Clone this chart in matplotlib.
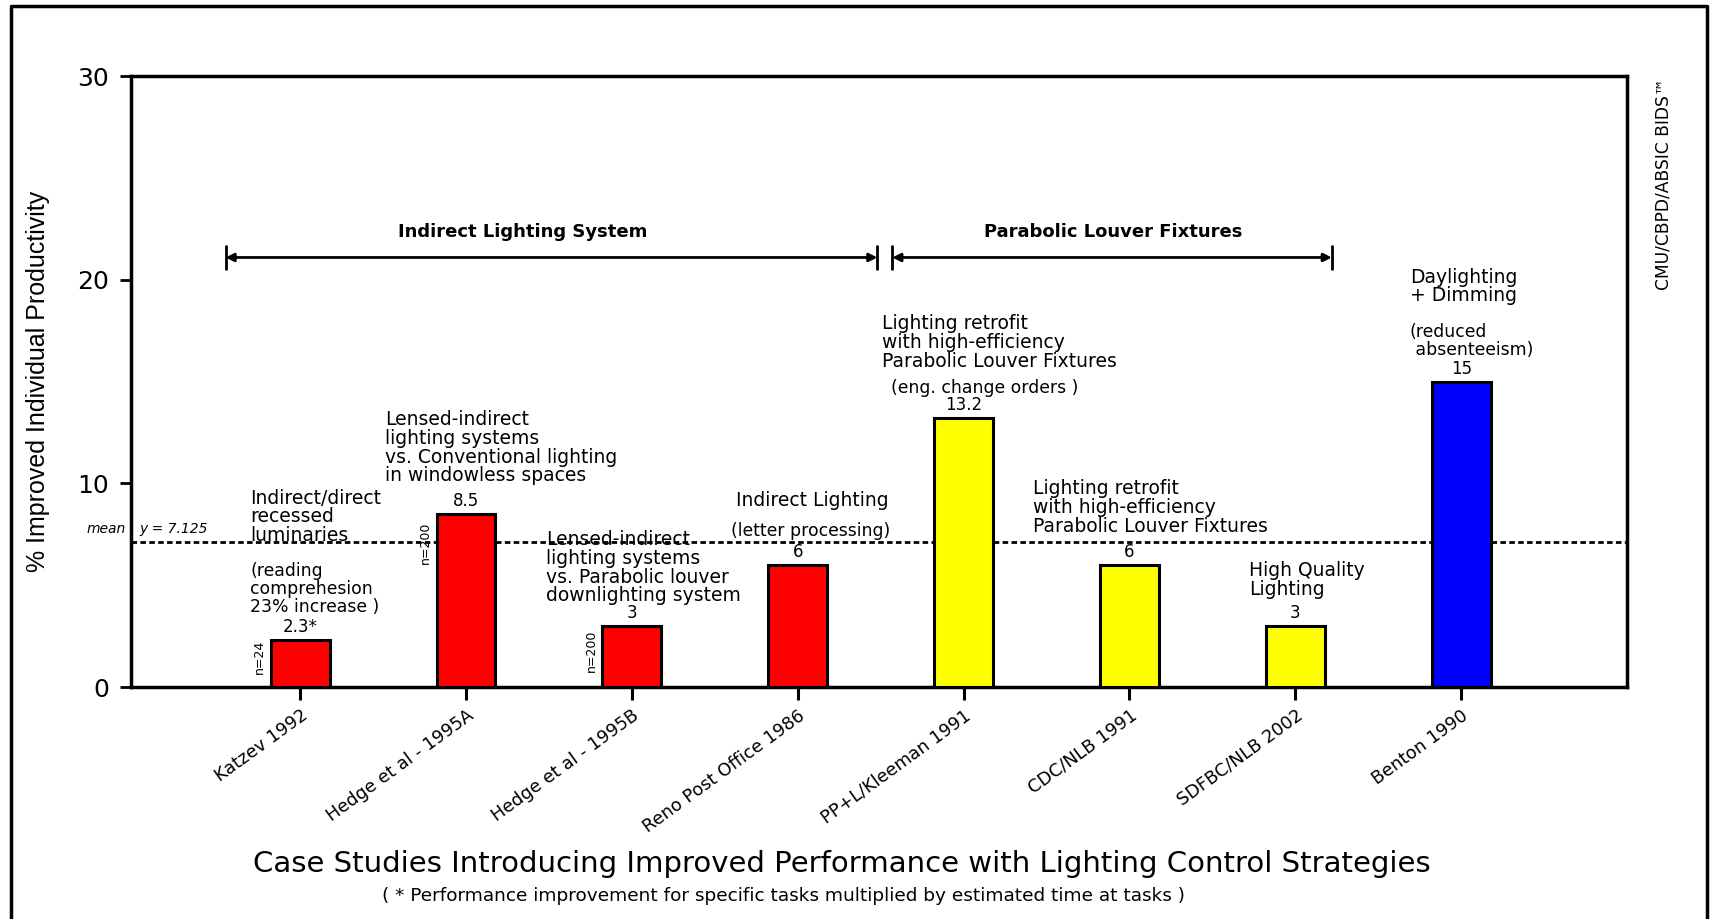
import matplotlib
matplotlib.use('Agg')
import matplotlib.pyplot as plt
from matplotlib.lines import Line2D

plt.rcParams['font.family'] = ['DejaVu Sans']

# data
studies = ['Katzev 1992', 'Hedge et al - 1995A', 'Hedge et al - 1995B', 'Reno Post Office 1986',
           'PP+L/Kleeman 1991', 'CDC/NLB 1991', 'SDFBC/NLB 2002', 'Benton 1990']
improvement = [2.3, 8.5, 3, 6, 13.2, 6, 3, 15]
value_labels = ['2.3*', '8.5', '3', '6', '13.2', '6', '3', '15']
bar_colors = ['red', 'red', 'red', 'red', 'yellow', 'yellow', 'yellow', 'blue']
mean_value = 7.125

# study descriptions: (x, y, text)
notes = [
    (-0.30, 9.75, 'Indirect/direct\nrecessed\nluminaries'),
    (0.51, 13.6, 'Lensed-indirect\nlighting systems\nvs. Conventional lighting\nin windowless spaces'),
    (1.48, 7.7, 'Lensed-indirect\nlighting systems\nvs. Parabolic louver\ndownlighting system'),
    (2.63, 9.65, 'Indirect Lighting'),
    (3.51, 18.3, 'Lighting retrofit\nwith high-efficiency\nParabolic Louver Fixtures'),
    (4.42, 10.2, 'Lighting retrofit\nwith high-efficiency\nParabolic Louver Fixtures'),
    (5.72, 6.2, 'High Quality\nLighting'),
    (6.69, 20.6, 'Daylighting\n+ Dimming'),
]
# what was measured, in brackets
measures = [
    (-0.30, 6.15, '(reading\ncomprehesion\n23% increase )'),
    (2.60, 8.1, '(letter processing)'),
    (3.56, 15.15, '(eng. change orders )'),
    (6.69, 17.9, '(reduced\n absenteeism)'),
]
# (bar index, y centre, text)
sample_sizes = [(0, 1.5, 'n=24'), (1, 7.1, 'n=200'), (2, 1.8, 'n=200')]

# (start, end, label x, label)
groups = [(-0.45, 3.48, 1.34, 'Indirect Lighting System'),
          (3.57, 6.22, 4.9, 'Parabolic Louver Fixtures')]
group_y = 21.1

fig = plt.figure(figsize=(17.1, 9.19), dpi=100)
ax = fig.add_axes([0.0766, 0.2524, 0.8749, 0.6646])

x = list(range(len(studies)))
ax.bar(x, improvement, width=0.355, color=bar_colors, edgecolor='black', linewidth=2.2, zorder=3)

for i, v in enumerate(improvement):
    ax.text(i, v + 0.2, value_labels[i], ha='center', va='bottom', fontsize=12)

for i, ny, n in sample_sizes:
    ax.text(i - 0.245, ny, n, rotation=90, ha='center', va='center', fontsize=9)

for nx, ny, txt in notes:
    ax.text(nx, ny, txt, ha='left', va='top', fontsize=13.5, linespacing=0.98)
for nx, ny, txt in measures:
    ax.text(nx, ny, txt, ha='left', va='top', fontsize=12.4, linespacing=1.02)

# mean line
ax.axhline(mean_value, color='black', lw=2, linestyle=(0, (2, 1.2)), zorder=2)
ax.text(-1.05, mean_value + 0.3, 'mean', style='italic', fontsize=10, ha='right', va='bottom', clip_on=False)
ax.text(-0.97, mean_value + 0.3, 'y = 7.125', style='italic', fontsize=10, ha='left', va='bottom')

# group arrows
for x0, x1, lx, name in groups:
    ax.annotate('', xy=(x0, group_y), xytext=(x1, group_y),
                arrowprops=dict(arrowstyle='<|-|>', lw=2, color='black',
                                shrinkA=0, shrinkB=0, mutation_scale=12))
    ax.vlines([x0, x1], group_y - 0.6, group_y + 0.6, color='black', lw=2)
    ax.text(lx, group_y + 0.8, name, ha='center', va='bottom',
            fontsize=13, fontweight='bold')

ax.set_xlim(-1.02, 8.0)
ax.set_ylim(0, 30)
ax.set_yticks([0, 10, 20, 30])
ax.set_xticks(x)
ax.set_xticklabels(studies, rotation=36, ha='right', va='top', rotation_mode='anchor', fontsize=12.7)
ax.tick_params(axis='y', labelsize=18, length=8, width=2, direction='out', pad=8)
ax.tick_params(axis='x', length=9, width=2.2, direction='out', pad=5)
for s in ax.spines.values():
    s.set_linewidth(2.5)

fig.text(0.022, 0.585, '% Improved Individual Productivity', rotation=90,
         ha='center', va='center', fontsize=18, family=['Liberation Sans', 'DejaVu Sans'])
fig.text(0.9727, 0.80, 'CMU/CBPD/ABSIC BIDS\u2122', rotation=90, ha='center', va='center', fontsize=12.3)
fig.text(0.492, 0.060, 'Case Studies Introducing Improved Performance with Lighting Control Strategies',
         ha='center', va='center', fontsize=21)
fig.text(0.458, 0.0245, '( * Performance improvement for specific tasks multiplied by estimated time at tasks )',
         ha='center', va='center', fontsize=13.3)

# outer frame (no bottom edge)
fig.add_artist(Line2D([0.0064, 0.0064, 0.998, 0.998], [0.0, 0.994, 0.994, 0.0],
                      transform=fig.transFigure, color='black', lw=2.5))

fig.savefig('out.png', dpi=100)
